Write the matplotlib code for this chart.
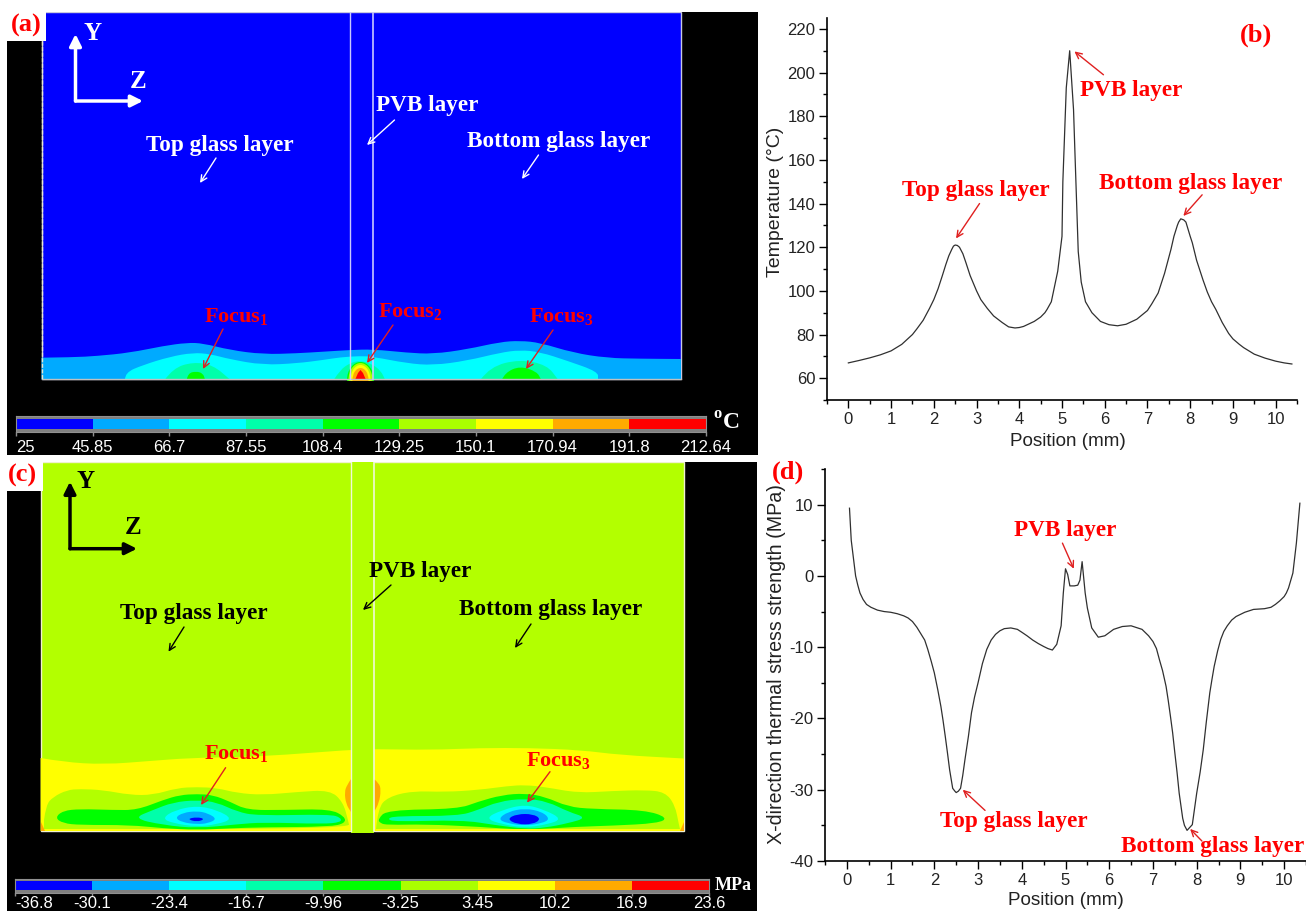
import matplotlib
matplotlib.use('Agg')
import matplotlib.pyplot as plt
from matplotlib.patches import Rectangle, Ellipse, PathPatch
from matplotlib.path import Path
from matplotlib.ticker import MultipleLocator

W, H = 1306, 911
SERIF = 'Liberation Serif'
SANS = 'Liberation Sans'

plt.rcParams['axes.unicode_minus'] = False
plt.rcParams['mathtext.fontset'] = 'custom'
plt.rcParams['mathtext.bf'] = 'Liberation Serif:bold'
plt.rcParams['mathtext.rm'] = 'Liberation Serif:bold'

# colour levels shared by both contour maps
level_colors = ['#0000ff', '#00aaff', '#00ffff', '#00ffaa', '#00ff00',
                '#aaff00', '#ffff00', '#ffaa00', '#ff0000']
BLUE, LBLUE, CYAN, TEAL, GREEN, YGREEN, YELLOW, ORANGE, RED = level_colors
YG_C = '#b3ff00'

temp_ticks = ['25', '45.85', '66.7', '87.55', '108.4', '129.25', '150.1', '170.94', '191.8', '212.64']
stress_ticks = ['-36.8', '-30.1', '-23.4', '-16.7', '-9.96', '-3.25', '3.45', '10.2', '16.9', '23.6']

# (b) temperature along the line
pos_b = [0, 0.25, 0.5, 0.75, 1, 1.25, 1.5, 1.6, 1.75, 1.9, 2, 2.1, 2.2, 2.28, 2.35, 2.42, 2.46, 2.5, 2.55, 2.6, 2.68, 2.75,
         2.85, 3, 3.1, 3.25, 3.4, 3.5, 3.6, 3.75, 3.9, 4.0, 4.1, 4.35, 4.5, 4.6, 4.65, 4.75, 4.9, 5.0, 5.02, 5.1, 5.18, 5.27,
         5.3, 5.38, 5.45, 5.55, 5.7, 5.9, 6.1, 6.3, 6.5, 6.75, 7, 7.1, 7.25, 7.4, 7.55, 7.62, 7.7, 7.73, 7.78, 7.85, 7.9,
         8.0, 8.05, 8.15, 8.3, 8.4, 8.5, 8.6, 8.75, 8.9, 9, 9.15, 9.25, 9.5, 9.75, 10, 10.2, 10.38]
temp_b = [67, 68.1, 69.3, 70.7, 72.5, 75.5, 80, 82.5, 86.5, 92, 96, 101, 107, 112, 116, 119, 120.5, 121, 120.8, 120, 117, 113,
          107, 100, 96, 92, 88.5, 87, 85.5, 83.5, 83, 83.2, 83.7, 86, 88, 90, 91.5, 95, 109, 125, 150, 193, 210, 183,
          165, 118, 104, 95, 90, 86, 84.5, 84, 84.7, 87, 91, 94, 99, 108, 119, 125, 130, 131.5, 133, 132.5, 131.5,
          125, 122, 114, 105, 99.5, 95, 91.5, 85.5, 80.5, 78, 75.5, 74, 71, 69.2, 67.8, 67, 66.5]

# (d) x-direction stress along the line
pos_d = [0.06, 0.1, 0.15, 0.2, 0.25, 0.3, 0.37, 0.45, 0.55, 0.7, 0.85, 1, 1.15, 1.3, 1.4, 1.5, 1.6, 1.7, 1.78, 1.85, 1.93, 2, 2.08,
         2.15, 2.2, 2.25, 2.3, 2.35, 2.42, 2.47, 2.5, 2.55, 2.6, 2.65, 2.7, 2.78, 2.85, 2.92, 3, 3.1, 3.2, 3.3, 3.4, 3.5, 3.6, 3.75,
         3.9, 4, 4.12, 4.25, 4.38, 4.5, 4.6, 4.7, 4.8, 4.9, 4.95, 5, 5.05, 5.1, 5.2, 5.28, 5.33,
         5.38, 5.45, 5.5, 5.6, 5.75, 5.9, 6.1, 6.3, 6.5, 6.75, 6.9, 7, 7.08, 7.15, 7.22, 7.3, 7.35, 7.4, 7.45, 7.5, 7.55, 7.6, 7.68,
         7.72, 7.78, 7.9, 8, 8.08, 8.15, 8.22, 8.3, 8.35, 8.4, 8.48, 8.55, 8.62, 8.7, 8.8, 8.9, 9, 9.1, 9.2, 9.3, 9.55, 9.7, 9.8,
         9.9, 10, 10.05, 10.1, 10.2, 10.28, 10.36]
stress_d = [9.5, 5, 2.5, 0, -1.3, -2.4, -3.3, -4, -4.4, -4.8, -5, -5.1, -5.3, -5.6, -5.9, -6.4, -7.2, -8.2, -9, -10.3, -12, -13.6, -16,
            -18.3, -20.3, -22.5, -24.8, -27.2, -29.8, -30.2, -30.4, -30.2, -29.8, -28, -25.8, -22.5, -19.2, -17, -15, -12.3, -10.3, -9, -8.2, -7.7, -7.4, -7.3,
            -7.5, -7.9, -8.4, -9, -9.5, -9.9, -10.2, -10.4, -9.6, -7, -2.4, 1, 0.2, -1.4, -1.4, -1.3, -0.6,
            2, -2.4, -4.5, -7.3, -8.6, -8.4, -7.5, -7.1, -7, -7.5, -8.4, -9.2, -10.2, -11.8, -13.3, -15.5, -17.5, -19.7, -22, -24.8, -27.5, -30.5, -34,
            -35, -35.7, -34.9, -30.5, -27.5, -24.4, -20.5, -16.4, -14.5, -12.7, -10.5, -8.9, -7.8, -7, -6.2, -5.7, -5.4, -5.1, -4.9, -4.7, -4.6, -4.4, -4,
            -3.5, -2.9, -2.4, -1.7, 0.4, 4.6, 10.2]

# (a) contour band outlines, in picture coordinates of the map
a_lblue_z = [41.5, 73, 97, 130, 163, 187, 203, 230, 263, 297, 323, 350, 373, 407, 433, 467, 500, 520, 540, 573, 607, 640, 681]
a_lblue_y = [357.7, 357.3, 356, 352.7, 346, 342.7, 343.3, 350, 354.3, 353.3, 351.7, 350, 349.3, 352.7, 354, 349.3, 342, 340.7, 342.7, 352.7, 358, 358.7, 359]
a_cyan_z = [125, 125, 143, 170, 193, 210, 230, 263, 297, 323, 340, 360, 373, 407, 433, 467, 500, 520, 540, 567, 598, 598]
a_cyan_y = [379.5, 372.7, 365, 356.7, 352.7, 354, 359.3, 365, 363.3, 360, 357.3, 356, 356.7, 363.3, 365.3, 360.7, 352.7, 350, 352, 360.7, 371.7, 379.5]
a_teal1_z = [165, 173, 193, 213, 230]
a_teal1_y = [379.5, 368.3, 362, 365, 379.5]
a_teal2_z = [334, 340, 350, 360, 372, 381, 385]
a_teal2_y = [379.5, 370, 363, 360.5, 364, 371, 379.5]
a_teal3_z = [480.7, 490, 520, 547, 558]
a_teal3_y = [379.5, 366.7, 359.3, 365, 379.5]
a_green1_z = [186.7, 188, 196, 203, 205]
a_green1_y = [379.5, 373.3, 371.3, 373.3, 379.5]
a_green3_z = [502, 505, 520, 537, 541]
a_green3_y = [379.5, 372.7, 366, 371.7, 379.5]
# rings of the PVB hot spot: half widths and heights above the base line
a_ring_colors = [GREEN, YGREEN, YELLOW, ORANGE]
a_ring_halfw = [13.5, 12, 10, 8]
a_ring_height = [18, 17, 15, 12]
a_red_z = [355, 358, 360.5, 363, 366]
a_red_y = [380, 373, 370, 373, 380]

# (c) contour band outlines
c_yellow_z = [40.6, 63, 104, 150, 189, 240, 283, 347, 375, 430, 480, 530, 580, 620, 684]
c_yellow_y = [758, 762, 764.5, 761, 758, 757, 755, 750, 749, 750, 748, 748, 750, 755, 758.5]
c_orange_l_z = [351, 347, 344.5, 346, 351]
c_orange_l_y = [779, 785, 792, 804, 812]
c_orange_r_z = [374, 379, 381, 379, 374]
c_orange_r_y = [779, 783, 790, 803, 812]
c_yg_l_z = [44, 46, 53, 67, 80, 103, 130, 153, 177, 197, 217, 237, 263, 297, 330, 343, 348, 350, 44]
c_yg_l_y = [820, 805, 797, 790, 789, 790, 795, 795, 788, 787, 788, 793, 795, 792, 790, 802, 820, 829, 829]
c_green_l_z = [55, 63, 80, 113, 137, 163, 180, 197, 213, 230, 247, 283, 330, 345, 345, 330, 263, 230, 197, 163, 130, 80, 63]
c_green_l_y = [817.7, 810.7, 809, 810, 810, 800, 795, 794, 795, 801.7, 810, 810, 809, 816.7, 823.3, 826.7, 827.3, 828.3, 830, 828.3, 825, 825, 823.3]
c_teal_l_z = [133, 153, 173, 197, 217, 237, 257, 330, 341, 341, 323, 263, 237, 197, 163]
c_teal_l_y = [818.3, 810, 802.3, 800, 802.3, 811.7, 815.7, 814.3, 817.7, 822.3, 824, 822.3, 824.3, 828.3, 825]
c_cyan_l_z = [162, 175, 197, 217, 233, 217, 197, 173]
c_cyan_l_y = [818.3, 810, 805.7, 810, 819, 824.3, 826.7, 823.3]
c_lblue_l_z = [175, 183, 197, 208, 217, 208, 197, 182]
c_lblue_l_y = [817.7, 812.7, 811, 813.3, 819, 823.3, 824.3, 822.3]
c_blue_l_z = [187, 197, 205, 197]
c_blue_l_y = [819, 817, 819, 822]
c_yg_r_z = [376, 378, 388, 412, 445, 478, 508, 525, 545, 578, 612, 645, 665, 675, 679, 680]
c_yg_r_y = [829, 808, 797, 791, 792, 790, 786, 785, 787, 793, 791, 790, 792, 805, 825, 829]
c_green_r_z = [378, 387, 458, 478, 502, 525, 545, 568, 592, 645, 668, 658, 612, 578, 525, 478, 425, 388, 380]
c_green_r_y = [819, 810, 809, 801.7, 795, 793.3, 796.7, 806.7, 809, 810, 817.7, 823.3, 825.7, 826.7, 830, 826.7, 824.3, 825, 823.3]
c_teal_r_z = [387, 395, 458, 478, 498, 525, 548, 568, 587, 568, 545, 525, 495, 462, 395]
c_teal_r_y = [819, 816, 816, 810, 801.7, 798.3, 801.7, 811.7, 817.7, 823.3, 827.7, 829, 825, 820, 821.7]
c_cyan_r_z = [485, 502, 525, 545, 562, 548, 525, 502]
c_cyan_r_y = [818.3, 810, 804.3, 810, 819, 824.3, 827.7, 824.3]
c_lblue_r_z = [498, 508, 525, 542, 550, 542, 525, 507]
c_lblue_r_y = [819, 811.7, 808.3, 811.7, 819, 823.3, 825.7, 823.3]
c_blue_r_z = [507, 517, 533, 541, 533, 517]
c_blue_r_y = [819, 814, 814, 819, 824.3, 824.3]


def px_axes(fig, left, top, right, bottom):
    return fig.add_axes([left / W, 1 - bottom / H, (right - left) / W, (bottom - top) / H])


def arrow(ax, start, end, color, lw=1.0):
    ax.annotate('', xy=end, xytext=start,
                arrowprops=dict(arrowstyle='->,head_width=0.22,head_length=0.45', color=color, lw=lw,
                                shrinkA=0, shrinkB=0))


def note(ax, x, y, s, color, size=16.7):
    ax.text(x, y, s, color=color, family=SERIF, weight='bold', fontsize=size, ha='center', va='center')


def band(ax, zs, ys, color, base=None, closed=False):
    # outline drawn as a quadratic path so the bands do not look faceted
    pts = list(zip(zs, ys))
    mid = lambda p, q: ((p[0] + q[0]) / 2, (p[1] + q[1]) / 2)
    if closed:
        verts = [mid(pts[-1], pts[0])]
        codes = [Path.MOVETO]
        for i, p in enumerate(pts):
            verts += [p, mid(p, pts[(i + 1) % len(pts)])]
            codes += [Path.CURVE3, Path.CURVE3]
    else:
        verts = [pts[0]]
        codes = [Path.MOVETO]
        for i in range(1, len(pts) - 1):
            verts += [pts[i], mid(pts[i], pts[i + 1])]
            codes += [Path.CURVE3, Path.CURVE3]
        verts.append(pts[-1])
        codes.append(Path.LINETO)
        if base is not None:
            verts += [(zs[-1], base), (zs[0], base)]
            codes += [Path.LINETO, Path.LINETO]
    verts.append(verts[0])
    codes.append(Path.CLOSEPOLY)
    ax.add_patch(PathPatch(Path(verts, codes), facecolor=color, edgecolor='none', lw=0))


def axis_cross(ax, ox, oy, top, right, color, ytext, ztext):
    for end in [(ox, top), (right, oy)]:
        ax.annotate('', xy=end, xytext=(ox, oy),
                    arrowprops=dict(arrowstyle='-|>,head_width=0.35,head_length=0.7', color=color, lw=2.5,
                                    shrinkA=0, shrinkB=0))
    note(ax, ytext[0], ytext[1], 'Y', color, 18)
    note(ax, ztext[0], ztext[1], 'Z', color, 18)


def map_axes(fig, left, top, right, bottom):
    ax = px_axes(fig, left, top, right, bottom)
    ax.set_facecolor('black')
    ax.set_xlim(left, right)
    ax.set_ylim(bottom, top)
    ax.set_xticks([])
    ax.set_yticks([])
    for s in ax.spines.values():
        s.set_visible(False)
    return ax


def level_bar(fig, left, top, right, bottom, labels, pad=3, ticklen=3):
    ax = px_axes(fig, left, top, right, bottom)
    ax.set_facecolor('#808080')
    ax.bar(range(9), [1] * 9, width=1, bottom=0, align='edge', color=level_colors)
    ax.set_xlim(0, 9)
    ax.set_ylim(-0.28, 1.28)
    ax.set_yticks([])
    ax.set_xticks(range(10))
    ax.set_xticklabels(labels, color='white', family=SANS, fontsize=12)
    ax.tick_params(axis='x', length=ticklen, width=1, color='#909090', pad=pad)
    ax.get_xticklabels()[0].set_ha('left')
    for s in ax.spines.values():
        s.set_color('#909090')
    return ax


def line_axes(fig, left, top, right, bottom):
    ax = px_axes(fig, left, top, right, bottom)
    ax.spines['top'].set_visible(False)
    ax.spines['right'].set_visible(False)
    ax.spines['left'].set_linewidth(1.2)
    ax.spines['bottom'].set_linewidth(1.2)
    ax.patch.set_alpha(0)
    ax.set_xlim(-0.5, 10.5)
    ax.xaxis.set_major_locator(MultipleLocator(1))
    ax.xaxis.set_minor_locator(MultipleLocator(0.5))
    ax.tick_params(which='major', length=5.5, width=1, labelsize=12, pad=3, labelcolor='#222222')
    ax.tick_params(which='minor', length=3, width=1)
    for lab in ax.get_xticklabels() + ax.get_yticklabels():
        lab.set_family(SANS)
    ax.set_xlabel('Position (mm)', family=SANS, fontsize=13.6, color='#222222')
    return ax


fig = plt.figure(figsize=(W / 100, H / 100), dpi=100, facecolor='white')

# (a) temperature map
ax_a = map_axes(fig, 7, 12, 758, 455)
ax_a.add_patch(Rectangle((41.5, 12), 639.5, 367.5, facecolor=BLUE, edgecolor='#c8c8e0', lw=1))
band(ax_a, a_lblue_z, a_lblue_y, LBLUE, base=379.5)
band(ax_a, a_cyan_z, a_cyan_y, CYAN)
for zs, ys in [(a_teal1_z, a_teal1_y), (a_teal2_z, a_teal2_y), (a_teal3_z, a_teal3_y)]:
    band(ax_a, zs, ys, TEAL)
for zs, ys in [(a_green1_z, a_green1_y), (a_green3_z, a_green3_y)]:
    band(ax_a, zs, ys, GREEN)
for col, hw, ht in zip(a_ring_colors, a_ring_halfw, a_ring_height):
    ax_a.add_patch(Ellipse((360.5, 380), 2 * hw, 2 * ht, facecolor=col, lw=0))
ax_a.fill(a_red_z, a_red_y, color=RED, lw=0)
ax_a.add_patch(Rectangle((300, 380.5), 120, 30, facecolor='black', lw=0, zorder=1.5))
ax_a.plot([41.5, 681], [379.5, 379.5], color='#c0c0c0', lw=1, zorder=2)
ax_a.plot([349.7, 349.7], [12, 379.5], color='#c8c8ff', lw=1)
ax_a.plot([372.8, 372.8], [12, 379.5], color='#c8c8ff', lw=1.2)
ax_a.plot([41.5, 41.5], [41, 379.5], color='#e8e8d0', lw=1, ls=(0, (3, 1)))
axis_cross(ax_a, 75.5, 101, 34, 143, 'white', (93, 33), (138, 81))
note(ax_a, 427, 105, 'PVB layer', 'white')
arrow(ax_a, (394.5, 120), (367, 145), 'white')
note(ax_a, 220, 145, 'Top glass layer', 'white')
arrow(ax_a, (216, 158), (200, 183), 'white')
note(ax_a, 559, 141, 'Bottom glass layer', 'white')
arrow(ax_a, (538.5, 155), (522, 179), 'white')
note(ax_a, 236, 317, 'Focus$_{\\mathbf{1}}$', '#ff0000', 16)
arrow(ax_a, (223, 329), (203, 369), '#e02020')
note(ax_a, 410.6, 312, 'Focus$_{\\mathbf{2}}$', '#ff0000', 16)
arrow(ax_a, (393, 325), (367, 363), '#e02020')
note(ax_a, 561.6, 317, 'Focus$_{\\mathbf{3}}$', '#ff0000', 16)
arrow(ax_a, (553, 330), (526, 369), '#e02020')
note(ax_a, 726, 424, '$^{\\mathbf{o}}$C', 'white', 17)
level_bar(fig, 16, 416, 706, 432, temp_ticks)

# (c) stress map
ax_c = map_axes(fig, 7, 462, 757, 911)
ax_c.add_patch(Rectangle((40.6, 462), 643.4, 369, facecolor=YG_C, edgecolor='#f0f0d0', lw=1))
band(ax_c, c_yellow_z, c_yellow_y, YELLOW, base=831)
band(ax_c, c_orange_l_z, c_orange_l_y, ORANGE)
band(ax_c, c_orange_r_z, c_orange_r_y, ORANGE)
band(ax_c, c_yg_l_z, c_yg_l_y, YG_C, base=829)
band(ax_c, c_yg_r_z, c_yg_r_y, YG_C)
for zs, ys, col in [(c_green_l_z, c_green_l_y, GREEN), (c_green_r_z, c_green_r_y, GREEN),
                    (c_teal_l_z, c_teal_l_y, TEAL), (c_teal_r_z, c_teal_r_y, TEAL),
                    (c_cyan_l_z, c_cyan_l_y, CYAN), (c_cyan_r_z, c_cyan_r_y, CYAN),
                    (c_lblue_l_z, c_lblue_l_y, LBLUE), (c_lblue_r_z, c_lblue_r_y, LBLUE),
                    (c_blue_l_z, c_blue_l_y, BLUE), (c_blue_r_z, c_blue_r_y, BLUE)]:
    band(ax_c, zs, ys, col, closed=True)
ax_c.fill([41, 41, 45], [831, 822, 831], color=ORANGE, lw=0)
ax_c.fill([684, 684, 680], [831, 822, 831], color=ORANGE, lw=0)
ax_c.add_patch(Rectangle((350.6, 462), 23.4, 371, facecolor=YG_C, edgecolor='none'))
ax_c.plot([350.6, 350.6], [462, 831], color='#f0f8d8', lw=1)
ax_c.plot([374, 374], [462, 831], color='#f0f8d8', lw=1.2)
axis_cross(ax_c, 70, 548.7, 481.7, 137, 'black', (86, 481), (133.5, 528))
note(ax_c, 420, 572, 'PVB layer', 'black')
arrow(ax_c, (391, 585), (363, 610), 'black')
note(ax_c, 193.5, 614, 'Top glass layer', 'black')
arrow(ax_c, (184, 627), (168.5, 651.7), 'black')
note(ax_c, 551, 609, 'Bottom glass layer', 'black')
arrow(ax_c, (531, 624), (515, 648), 'black')
note(ax_c, 236, 754, 'Focus$_{\\mathbf{1}}$', '#ff0000', 16)
arrow(ax_c, (225.6, 767.7), (201, 805), '#e02020')
note(ax_c, 559, 760.7, 'Focus$_{\\mathbf{3}}$', '#ff0000', 16)
arrow(ax_c, (550, 771.7), (527, 802.7), '#e02020')
note(ax_c, 733, 885, 'MPa', 'white', 13)
level_bar(fig, 15, 878.5, 709, 892.5, stress_ticks, pad=0.5, ticklen=2)

# (b) temperature curve
ax_b = line_axes(fig, 827, 18, 1297, 400)
ax_b.plot(pos_b, temp_b, color='#303030', lw=0.9)
ax_b.set_ylim(50, 225)
ax_b.yaxis.set_major_locator(MultipleLocator(20))
ax_b.yaxis.set_minor_locator(MultipleLocator(10))
ax_b.set_ylabel('Temperature (°C)', family=SANS, fontsize=14, color='#222222')
ax_b.yaxis.set_label_coords((784 - 827) / 470, (400 - 202) / 382)
ax_b.xaxis.set_label_coords((1068 - 827) / 470, (400 - 433) / 382)
note(ax_b, 6.62, 192, 'PVB layer', '#ff0000')
arrow(ax_b, (5.97, 199), (5.29, 209.7), '#e02020')
note(ax_b, 2.99, 146, 'Top glass layer', '#ff0000')
arrow(ax_b, (3.07, 140), (2.52, 124), '#e02020')
note(ax_b, 8.01, 149, 'Bottom glass layer', '#ff0000')
arrow(ax_b, (8.28, 144), (7.84, 134.3), '#e02020')

# (d) stress curve
ax_d = line_axes(fig, 825, 469, 1306, 861)
ax_d.plot(pos_d, stress_d, color='#303030', lw=0.9)
ax_d.set_ylim(-40, 15)
ax_d.yaxis.set_major_locator(MultipleLocator(10))
ax_d.yaxis.set_minor_locator(MultipleLocator(5))
ax_d.set_ylabel('X-direction thermal stress strength (MPa)', family=SANS, fontsize=14.1, color='#222222')
ax_d.yaxis.set_label_coords((785.5 - 825) / 481, (861 - 664) / 392)
ax_d.xaxis.set_label_coords((1066 - 825) / 481, (861 - 892) / 392)
note(ax_d, 4.99, 6.4, 'PVB layer', '#ff0000')
arrow(ax_d, (4.93, 4.6), (5.19, 1), '#e02020')
note(ax_d, 3.82, -34.4, 'Top glass layer', '#ff0000')
arrow(ax_d, (3.16, -32.9), (2.65, -30), '#e02020')
note(ax_d, 8.37, -38, 'Bottom glass layer', '#ff0000')
arrow(ax_d, (8.12, -37.2), (7.85, -35.5), '#e02020')

# panel letters
for x, y, s, bw, bh in [(26, 25, '(a)', 46, 41), (22.6, 475, '(c)', 43, 491)]:
    top = y - 25 if y < 100 else 462
    fig.add_artist(Rectangle((0, 1 - bh / H), bw / W, (bh - top) / H, transform=fig.transFigure,
                             facecolor='white', edgecolor='none'))
    fig.text(x / W, 1 - y / H, s, color='#ff0000', family=SERIF, weight='bold', fontsize=19, ha='center', va='center')
for x, y, s in [(1256, 35, '(b)'), (788, 472, '(d)')]:
    fig.text(x / W, 1 - y / H, s, color='#ff0000', family=SERIF, weight='bold', fontsize=19, ha='center', va='center')

fig.savefig('out.png', dpi=100, facecolor='white')
